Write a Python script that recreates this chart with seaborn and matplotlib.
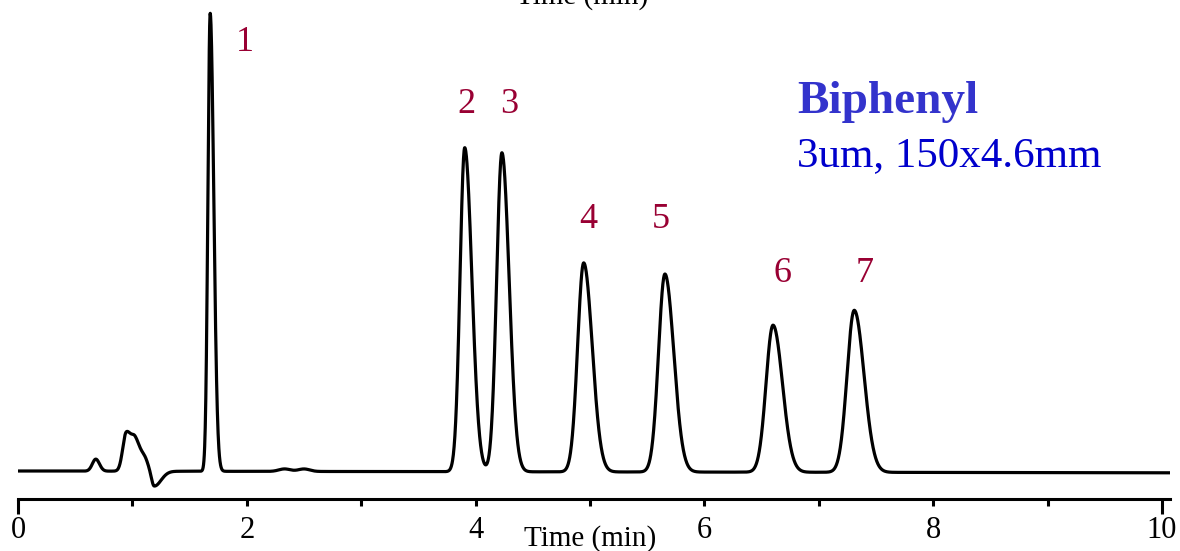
import numpy as np
import pandas as pd
import matplotlib
matplotlib.use("Agg")
import matplotlib.pyplot as plt
import seaborn as sns

# ---- data (time in min, signal in arbitrary units) ----
peak_ids = ["1", "2", "3", "4", "5", "6", "7"]
peak_times = [1.68, 3.905, 4.23, 4.945, 5.655, 6.60, 7.31]
peak_heights = [458, 324, 319, 209, 198, 147, 162]
peak_sigma_left = [0.020, 0.041, 0.046, 0.053, 0.056, 0.061, 0.063]
peak_sigma_right = [0.031, 0.062, 0.063, 0.074, 0.077, 0.082, 0.085]

# minor features (solvent front / system peaks)
minor_times = [0.68, 0.945, 1.025, 1.105, 1.19, 2.33, 2.50]
minor_heights = [12, 37, 29, 12, -15, 2.5, 2.5]
minor_sigma_left = [0.03, 0.03, 0.035, 0.035, 0.022, 0.05, 0.05]
minor_sigma_right = [0.032, 0.04, 0.04, 0.03, 0.06, 0.05, 0.05]

baseline_times = [0.0, 10.07]
baseline_levels = [0.0, -1.8]

# label annotation layout (data coordinates)
label_x = [1.98, 3.92, 4.29, 4.985, 5.62, 6.68, 7.40]
label_y = [429, 367, 367, 251, 251, 198, 198]

title_text = "Biphenyl"
subtitle_text = "3um, 150x4.6mm"

# ---- build trace ----
t = np.linspace(0, 10.07, 6000)


def bigauss(tt, c, h, sl, sr):
    s = np.where(tt < c, sl, sr)
    return h * np.exp(-0.5 * ((tt - c) / s) ** 2)


sig = np.interp(t, baseline_times, baseline_levels)
for c, h, sl, sr in zip(peak_times, peak_heights, peak_sigma_left, peak_sigma_right):
    sig = sig + bigauss(t, c, h, sl, sr)
for c, h, sl, sr in zip(minor_times, minor_heights, minor_sigma_left, minor_sigma_right):
    sig = sig + bigauss(t, c, h, sl, sr)

df = pd.DataFrame({"time": t, "signal": sig})

# ---- plot ----
sns.set_theme(style="white")
plt.rcParams["font.family"] = ["Liberation Serif", "DejaVu Serif"]

fig = plt.figure(figsize=(11.8, 5.51), dpi=100)
ax = fig.add_axes([18 / 1180, 52 / 551, 1152 / 1180, 499 / 551])

sns.lineplot(data=df, x="time", y="signal", ax=ax, color="black",
             linewidth=2.3, estimator=None, sort=False)

ax.set_xlim(0, 10.07)
ax.set_ylim(-28, 471)
for s in ["left", "right", "top"]:
    ax.spines[s].set_visible(False)
ax.spines["bottom"].set_linewidth(2.2)
ax.spines["bottom"].set_color("black")
ax.set_yticks([])
ax.set_xticks([0, 2, 4, 6, 8, 10])
ax.set_xticks([1, 3, 5, 7, 9], minor=True)
ax.tick_params(axis="x", which="both", direction="out", length=5, width=2.2,
               color="black", bottom=True, labelsize=22, labelcolor="black", pad=7)
ax.tick_params(axis="x", which="minor", labelbottom=False)
for i in (0, -1):
    tk = ax.xaxis.get_major_ticks()[i]
    tk.tick1line.set_markersize(11)
ax.set_xlabel("")
ax.set_ylabel("")

for lab, lx, ly in zip(peak_ids, label_x, label_y):
    ax.text(lx, ly, lab, color="#990033", fontsize=26, ha="center", va="center")

fig.text(797 / 1180, 1 - 113 / 551, title_text, color="#3333CC", fontsize=34,
         fontweight="bold", ha="left", va="baseline")
fig.text(797 / 1180, 1 - 166 / 551, subtitle_text, color="#0000CC", fontsize=31,
         ha="left", va="baseline")

fig.text(582 / 1180, 1 - 4 / 551, "Time (min)", fontsize=21, ha="center",
         va="baseline", color="black")
fig.text(590 / 1180, 1 - 546 / 551, "Time (min)", fontsize=21, ha="center",
         va="baseline", color="black")

fig.savefig("out.png", dpi=100)
